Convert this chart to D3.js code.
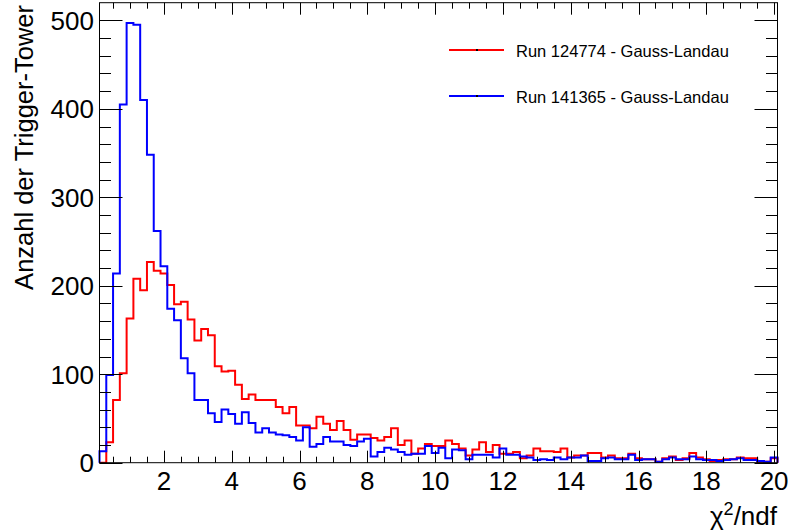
<!DOCTYPE html>
<html>
<head>
<meta charset="utf-8">
<script src="https://cdn.jsdelivr.net/npm/d3@7"></script>
<style>
  html, body { margin: 0; padding: 0; background: #fff; }
  svg { display: block; }
  text { font-family: "Liberation Sans", Arial, sans-serif; fill: #000; }
</style>
</head>
<body>
<svg id="chart" width="788" height="530"></svg>
<script>
// ---- data (bin contents, 100 bins of width 0.2 starting at 0.1) ----
const xMin = 0.1;
const binWidth = 0.2;
const run124774 = [
  0, 23, 71, 101, 163, 208, 195, 227, 217, 214,
  201, 179, 182, 162, 138, 151, 144, 109, 103, 104,
  88, 72, 77, 71, 71, 71, 63, 56, 63, 42,
  42, 39, 52, 44, 37, 47, 37, 26, 32, 32,
  28, 25, 29, 39, 20, 25, 10, 16, 21, 19,
  19, 25, 21, 16, 8, 15, 23, 12, 20, 10,
  10, 12, 5, 8, 16, 13, 13, 12, 16, 6,
  8, 8, 11, 11, 6, 8, 5, 5, 10, 5,
  4, 4, 1, 5, 7, 3, 5, 11, 6, 4,
  2, 3, 4, 4, 6, 5, 5, 1, 1, 5
];
const run141365 = [
  13, 99, 214, 405, 497, 495, 410, 348, 262, 222,
  174, 161, 118, 101, 71, 71, 56, 46, 60, 55,
  44, 57, 45, 34, 39, 34, 32, 31, 29, 25,
  40, 18, 21, 29, 24, 24, 20, 19, 24, 27,
  7, 12, 17, 15, 12, 9, 10, 10, 19, 11,
  17, 5, 15, 14, 4, 9, 9, 9, 6, 16,
  9, 9, 7, 6, 3, 4, 3, 6, 4, 6,
  6, 8, 2, 2, 5, 6, 4, 4, 9, 3,
  4, 4, 1, 4, 6, 4, 4, 7, 4, 3,
  3, 2, 3, 4, 5, 3, 3, 2, 1, 6
];
const seriesNames = ["Run 124774 - Gauss-Landau", "Run 141365 - Gauss-Landau"];
const seriesColors = ["#ff0000", "#0000ff"];
const xTicks = [2, 4, 6, 8, 10, 12, 14, 16, 18, 20];
const yTicks = [0, 100, 200, 300, 400, 500];
const xDomain = [0.1, 20.1];
const yDomain = [0, 520];

// ---- layout ----
const svg = d3.select("#chart");
const L = 99.5, R = 777.5, T = 2.7, B = 462.7;
const x = d3.scaleLinear().domain(xDomain).range([L, R]);
const y = d3.scaleLinear().domain(yDomain).range([B, T]);

const g = svg.append("g");

// histograms
function histPath(vals) {
  const p = d3.path();
  p.moveTo(x(xMin), y(0));
  vals.forEach((v, k) => {
    const x0 = xMin + k * binWidth;
    p.lineTo(x(x0), y(v));
    p.lineTo(x(x0 + binWidth), y(v));
  });
  p.lineTo(x(xMin + vals.length * binWidth), y(0));
  return p.toString();
}
[run124774, run141365].forEach((vals, i) => {
  g.append("path")
    .attr("d", histPath(vals))
    .attr("fill", "none")
    .attr("stroke", seriesColors[i])
    .attr("stroke-width", 2)
    .attr("stroke-linejoin", "miter");
});

// frame
g.append("rect")
  .attr("x", L).attr("y", T).attr("width", R - L).attr("height", B - T)
  .attr("fill", "none").attr("stroke", "#000").attr("stroke-width", 1);

// ticks
const xMinor = d3.range(0.5, 20.01, 0.5).filter(v => v >= xDomain[0]);
const yMinor = d3.range(0, 520, 20);
const tk = g.append("g").attr("stroke", "#000").attr("stroke-width", 1);
xMinor.forEach(v => {
  const major = Math.abs(v / 2 - Math.round(v / 2)) < 1e-6;
  const len = major ? 12 : 6;
  const xx = Math.round(x(v)) + 0.5;
  tk.append("line").attr("x1", xx).attr("x2", xx).attr("y1", B).attr("y2", B - len);
  tk.append("line").attr("x1", xx).attr("x2", xx).attr("y1", T).attr("y2", T + len);
});
yMinor.forEach(v => {
  const major = v % 100 === 0;
  const len = major ? 23 : 11.5;
  const yy = Math.round(y(v)) + 0.5;
  tk.append("line").attr("x1", L).attr("x2", L + len).attr("y1", yy).attr("y2", yy);
  tk.append("line").attr("x1", R).attr("x2", R - len).attr("y1", yy).attr("y2", yy);
});

// tick labels
const fs = 26;
xTicks.forEach(v => {
  g.append("text").attr("x", x(v)).attr("y", 489.5)
    .attr("text-anchor", "middle").attr("font-size", fs).text(v);
});
yTicks.forEach(v => {
  g.append("text").attr("x", 94).attr("y", y(v)).attr("dy", "0.36em")
    .attr("text-anchor", "end").attr("font-size", fs).text(v);
});

// axis titles
const xt = g.append("text").attr("x", 777).attr("y", 525)
  .attr("text-anchor", "end").attr("font-size", fs);
xt.append("tspan").text("χ");
xt.append("tspan").attr("font-size", 18).attr("dy", -10).text("2");
xt.append("tspan").attr("dy", 10).text("/ndf");

g.append("text")
  .attr("transform", "translate(33,5) rotate(-90)")
  .attr("text-anchor", "end").attr("font-size", 25.5)
  .text("Anzahl der Trigger-Tower");

// legend
const legY = [50, 96];
seriesNames.forEach((name, i) => {
  const lg = g.append("g");
  lg.append("line").attr("x1", 449).attr("x2", 504).attr("y1", legY[i]).attr("y2", legY[i])
    .attr("stroke", seriesColors[i]).attr("stroke-width", 2);
  lg.append("rect").attr("x", 476).attr("y", legY[i] - 1).attr("width", 2).attr("height", 2)
    .attr("fill", "#000");
  lg.append("text").attr("x", 516).attr("y", legY[i] + 6.5)
    .attr("font-size", 16.5).text(name);
});
</script>
</body>
</html>
